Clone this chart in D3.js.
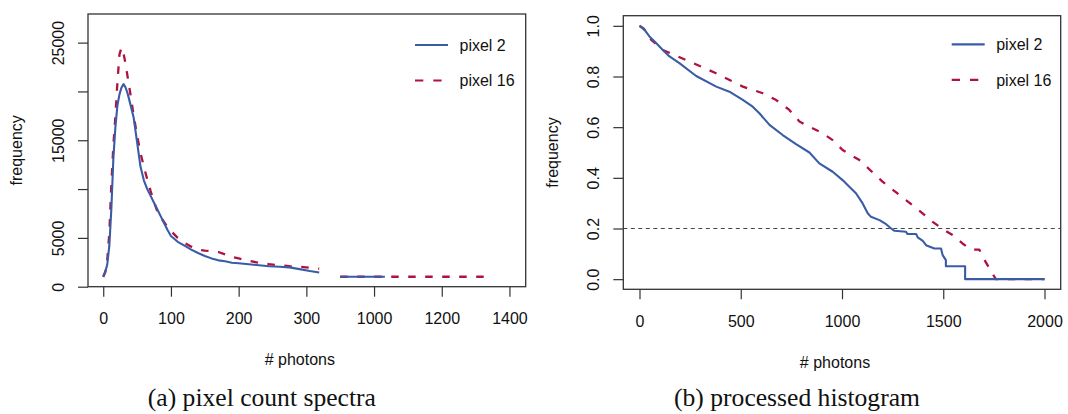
<!DOCTYPE html>
<html>
<head>
<meta charset="utf-8">
<script src="https://cdn.jsdelivr.net/npm/d3@7"></script>
<style>
  body { margin: 0; background: #fff; }
  svg { display: block; }
  .tick text, .lab { font-family: "Liberation Sans", Arial, sans-serif; font-size: 16px; fill: #111; }
  .cap { font-family: "Liberation Serif", "Times New Roman", serif; font-size: 25.6px; fill: #111; }
</style>
</head>
<body>
<svg id="chart" width="1068" height="414"></svg>
<script>
/* (a) pixel count spectra */
const photons = [0, 3, 6, 9, 12, 15, 18, 21, 24, 27, 30, 33, 36, 40, 45, 50, 55, 60, 65, 70, 75, 80, 85, 90, 95, 100,
  110, 120, 130, 140, 150, 160, 170, 180, 190, 200, 215, 230, 245, 260, 275, 290, 305, 319];
const pixel2 = [1100, 1500, 2300, 4200, 8000, 13200, 16400, 18600, 19700, 20400, 20750, 20400, 19800, 18700, 17300,
  14800, 12300, 10900, 10000, 9300, 8600, 7900, 7200, 6500, 5800, 5200,
  4600, 4200, 3800, 3450, 3150, 2900, 2700, 2600, 2450, 2400, 2300, 2200, 2100, 2050, 1980, 1800, 1600, 1450];
const pixel16 = [1000, 1500, 2800, 5500, 10500, 14500, 17500, 21000, 23800, 24500, 23900, 22800, 21500, 19800, 17500,
  15500, 13700, 12300, 11000, 9800, 8700, 7700, 7100, 6600, 6100, 5700,
  5000, 4500, 4100, 3800, 3700, 3650, 3550, 3300, 3050, 2900, 2650, 2450, 2300, 2200, 2100, 2050, 1950, 1850];
const tailPhotons2 = [900, 1032];
const tailPixel2 = [1020, 1020];
const tailPhotons16 = [900, 1324];
const tailPixel16 = [1020, 1020];
const spectraTicksX = [0, 100, 200, 300, 1000, 1200, 1400];
const spectraTicksY = [0, 5000, 10000, 15000, 20000, 25000];
const spectraLabelsY = ['0', '5000', '', '15000', '', '25000'];

/* (b) processed histogram */
const histPhotons2 = [0, 25, 49, 82, 115, 148, 197, 280, 379, 444, 510, 559, 592, 642, 707, 773, 839, 888, 954, 1003,
  1036, 1069, 1102, 1127, 1143, 1185, 1218, 1243, 1259, 1316, 1324, 1366, 1374, 1399, 1415, 1456, 1489, 1497, 1513,
  1513, 1608, 1608, 2000];
const histFreq2 = [1.0, 0.984, 0.958, 0.932, 0.905, 0.879, 0.853, 0.802, 0.760, 0.740, 0.708, 0.681, 0.655, 0.609,
  0.569, 0.533, 0.500, 0.457, 0.424, 0.391, 0.365, 0.339, 0.299, 0.260, 0.246, 0.233, 0.217, 0.200, 0.191, 0.187,
  0.178, 0.178, 0.165, 0.151, 0.134, 0.121, 0.121, 0.095, 0.075, 0.051, 0.051, 0.0, 0.0];
const histPhotons16 = [0, 20, 58, 115, 247, 378, 510, 609, 675, 740, 790, 839, 900, 954, 1003, 1086, 1200, 1316, 1398,
  1448, 1497, 1546, 1595, 1637, 1678, 1695, 1743, 1760, 2000];
const histFreq16 = [1.0, 0.99, 0.945, 0.905, 0.859, 0.813, 0.760, 0.734, 0.707, 0.668, 0.622, 0.602, 0.578, 0.549,
  0.51, 0.47, 0.385, 0.312, 0.26, 0.226, 0.198, 0.174, 0.141, 0.117, 0.117, 0.088, 0.022, 0.0, 0.0];
const histTicksX = [0, 500, 1000, 1500, 2000];
const histTicksY = [0, 0.2, 0.4, 0.6, 0.8, 1.0];
const threshold = 0.2;

const seriesNames = ['pixel 2', 'pixel 16'];
const captions = ['(a) pixel count spectra', '(b) processed histogram'];

const blue = '#3a5ca6';
const red = '#b01240';
const dash = '7.5,9.5';

const svg = d3.select('#chart');

/* zip two arrays into points */
function pts(xs, ys) {
  return xs.map((x, i) => [x, ys[i]]);
}

/* outer pixel edges of a (possibly piecewise) scale */
function ends(s) {
  const r = s.range();
  return [r[0], r[r.length - 1]];
}

/* draw box, axes, labels for one panel */
function frame(x, y, ticksX, ticksY, fmtY) {
  const [x0, x1] = ends(x);
  const [y0, y1] = ends(y);
  const g = svg.append('g');

  g.append('g')
    .attr('transform', `translate(0,${y0})`)
    .call(d3.axisBottom(x).tickValues(ticksX).tickSize(10).tickSizeOuter(0).tickFormat(d3.format('d')))
    .call((a) => a.select('.domain').remove())
    .call((a) => a.selectAll('.tick text').attr('y', 37.3).attr('dy', 0));

  g.append('g')
    .attr('transform', `translate(${x0},0)`)
    .call(d3.axisLeft(y).tickValues(ticksY).tickSize(10).tickSizeOuter(0).tickFormat(fmtY))
    .call((a) => a.select('.domain').remove())
    .call((a) => a.selectAll('.tick text')
      .attr('x', null).attr('dy', null)
      .attr('text-anchor', 'middle')
      .attr('transform', 'translate(-24,0) rotate(-90)'));

  g.selectAll('.tick line').attr('stroke', '#333').attr('stroke-width', 1.2);
  g.selectAll('.tick text').attr('fill', '#111');

  g.append('rect')
    .attr('x', x0).attr('y', y1)
    .attr('width', x1 - x0).attr('height', y0 - y1)
    .attr('fill', 'none').attr('stroke', '#333').attr('stroke-width', 1.3);

  return g;
}

function labels(x, y, yLabelX, caption) {
  const [x0, x1] = ends(x);
  const [y0, y1] = ends(y);
  svg.append('text').attr('class', 'lab')
    .attr('x', (x0 + x1) / 2 - 7).attr('y', y0 + 78.5)
    .attr('text-anchor', 'middle').text('# photons');
  svg.append('text').attr('class', 'lab')
    .attr('text-anchor', 'middle')
    .attr('transform', `translate(${yLabelX},${(y0 + y1) / 2}) rotate(-90)`)
    .text('frequency');
  svg.append('text').attr('class', 'cap')
    .attr('x', (x0 + x1) / 2 - 45).attr('y', 406)
    .attr('text-anchor', 'middle').text(caption);
}

function legend(lx, ly) {
  const g = svg.append('g');
  [blue, red].forEach((c, i) => {
    const yy = ly + i * 35.5;
    g.append('line')
      .attr('x1', lx).attr('x2', lx + 33).attr('y1', yy).attr('y2', yy)
      .attr('stroke', c).attr('stroke-width', 2.2)
      .attr('stroke-dasharray', i ? '8.3,10' : null);
    g.append('text').attr('class', 'lab')
      .attr('x', lx + 44.5).attr('y', yy + 5.7)
      .text(seriesNames[i]);
  });
}

function curve(x, y, data, colour, dashed) {
  svg.append('path')
    .datum(data)
    .attr('fill', 'none')
    .attr('stroke', colour)
    .attr('stroke-width', dashed ? 2.3 : 2.1)
    .attr('stroke-linejoin', 'round')
    .attr('stroke-dasharray', dashed ? dash : null)
    .attr('d', d3.line().x((d) => x(d[0])).y((d) => y(d[1])));
}

/* panel (a): broken x axis, 0-320 then 900-1450 at half the scale */
const xa = d3.scaleLinear()
  .domain([-22.5, 320, 900, 1448])
  .range([88, 319.9, 340.2, 525.7]);
const ya = d3.scaleLinear().domain([0, 27930]).range([286.7, 14]);

frame(xa, ya, spectraTicksX, spectraTicksY, (d, i) => spectraLabelsY[i]);
curve(xa, ya, pts(photons, pixel16), red, true);
curve(xa, ya, pts(tailPhotons16, tailPixel16), red, true);
curve(xa, ya, pts(photons, pixel2), blue, false);
curve(xa, ya, pts(tailPhotons2, tailPixel2), blue, false);
legend(415, 45);
labels(xa, ya, 21.6, captions[0]);

/* panel (b) */
const xb = d3.scaleLinear().domain([-80, 2080]).range([623.3, 1060.7]);
const yb = d3.scaleLinear().domain([-0.04, 1.04]).range([289.3, 15.7]);

frame(xb, yb, histTicksX, histTicksY, d3.format('.1f'));
svg.append('line')
  .attr('x1', xb.range()[0]).attr('x2', xb.range()[1])
  .attr('y1', yb(threshold)).attr('y2', yb(threshold))
  .attr('stroke', '#444').attr('stroke-width', 1.1)
  .attr('stroke-dasharray', '4,3.5');
curve(xb, yb, pts(histPhotons16, histFreq16), red, true);
curve(xb, yb, pts(histPhotons2, histFreq2), blue, false);
legend(951.7, 44.3);
labels(xb, yb, 558.3, captions[1]);
</script>
</body>
</html>
